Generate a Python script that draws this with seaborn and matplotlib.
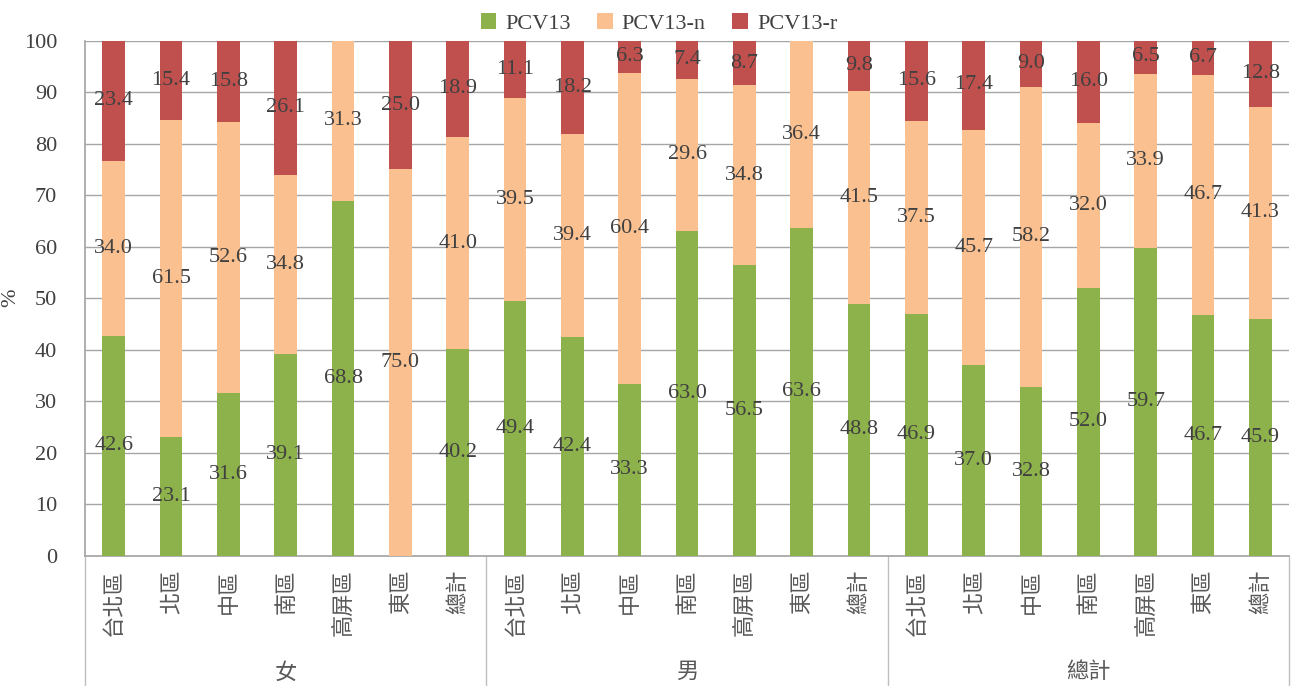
import numpy as np
import pandas as pd
import matplotlib
matplotlib.use("Agg")
import matplotlib.pyplot as plt
import seaborn as sns
from matplotlib.patches import Patch

# ---- data ----
groups = ["女", "男", "總計"]
regions = ["台北區", "北區", "中區", "南區", "高屏區", "東區", "總計"]
series = ["PCV13", "PCV13-n", "PCV13-r"]

pcv13 = [42.6, 23.1, 31.6, 39.1, 68.8, 0.0, 40.2,
         49.4, 42.4, 33.3, 63.0, 56.5, 63.6, 48.8,
         46.9, 37.0, 32.8, 52.0, 59.7, 46.7, 45.9]
pcv13_n = [34.0, 61.5, 52.6, 34.8, 31.3, 75.0, 41.0,
           39.5, 39.4, 60.4, 29.6, 34.8, 36.4, 41.5,
           37.5, 45.7, 58.2, 32.0, 33.9, 46.7, 41.3]
pcv13_r = [23.4, 15.4, 15.8, 26.1, 0.0, 25.0, 18.9,
           11.1, 18.2, 6.3, 7.4, 8.7, 0.0, 9.8,
           15.6, 17.4, 9.0, 16.0, 6.5, 6.7, 12.8]

colors = ["#8DB14B", "#FAC090", "#C0504D"]

sns.set_theme(style="white")
plt.rcParams['font.family'] = ['Liberation Serif', 'Noto Sans CJK TC', 'DejaVu Sans']

keys = [f"{g}-{r}" for g in groups for r in regions]
df = pd.DataFrame({"key": keys, "PCV13": pcv13, "PCV13-n": pcv13_n, "PCV13-r": pcv13_r})

fig = plt.figure(figsize=(12.92, 6.86), dpi=100)
ax = fig.add_axes([0.0658, 0.1902, 0.9319, 0.7505])

bottom = np.zeros(len(keys))
for s, c in zip(series, colors):
    vals = df[s].to_numpy()
    sns.barplot(x=df["key"], y=vals, bottom=bottom, color=c, width=0.4,
                order=keys, ax=ax, saturation=1, linewidth=0, zorder=3)
    for i, v in enumerate(vals):
        if v > 0:
            ax.text(i, min(bottom[i] + v / 2, 100 - 1), f"{v:.1f}", ha="center", va="center",
                    fontsize=16, color="#404040", family="Liberation Serif", zorder=5)
    bottom = bottom + vals

ax.set_xlim(-0.5, len(keys) - 0.5)
ax.set_ylim(0, 100)
ax.set_yticks(np.arange(0, 101, 10))
ax.set_yticklabels([str(v) for v in range(0, 101, 10)], fontsize=16, color="#404040",
                   family="Liberation Serif")
ax.yaxis.grid(True, color="#A6A6A6", linewidth=1, zorder=0)
ax.set_axisbelow(True)
ax.tick_params(axis="y", length=0, pad=20)
ax.tick_params(axis="x", length=0, pad=10)

ax.set_xticks(range(len(keys)))
ax.set_xticklabels([k.split("-")[1] for k in keys], rotation=90, fontsize=16,
                   color="#595959", family=["Noto Sans CJK TC"], va="top")
ax.set_xlabel("")
ax.set_ylabel("%", fontsize=16, color="#404040", family="Liberation Serif")
ax.yaxis.set_label_coords(-0.054, 0.5)

for sp in ["top", "right"]:
    ax.spines[sp].set_visible(False)
ax.spines["left"].set_color("#A6A6A6")
ax.spines["bottom"].set_color("#A6A6A6")

tr = ax.get_xaxis_transform()
for xb in [-0.5, 6.5, 13.5, 20.5]:
    ax.plot([xb, xb], [0, -0.27], transform=tr, color="#BFBFBF", linewidth=1, clip_on=False)
for gi, g in enumerate(groups):
    ax.text(gi * 7 + 3, -0.226, g, transform=tr, ha="center", va="center", fontsize=16,
            color="#595959", family=["Noto Sans CJK TC"])

handles = [Patch(facecolor=c, edgecolor="none") for c in colors]
fig.legend(handles, series, loc="upper center", bbox_to_anchor=(0.51, 1.01), ncol=3,
           frameon=False, handlelength=0.7, handleheight=0.7, handletextpad=0.4,
           columnspacing=1.2, prop={"family": "Liberation Serif", "size": 16},
           labelcolor="#404040")

fig.savefig("out.png", dpi=100)
